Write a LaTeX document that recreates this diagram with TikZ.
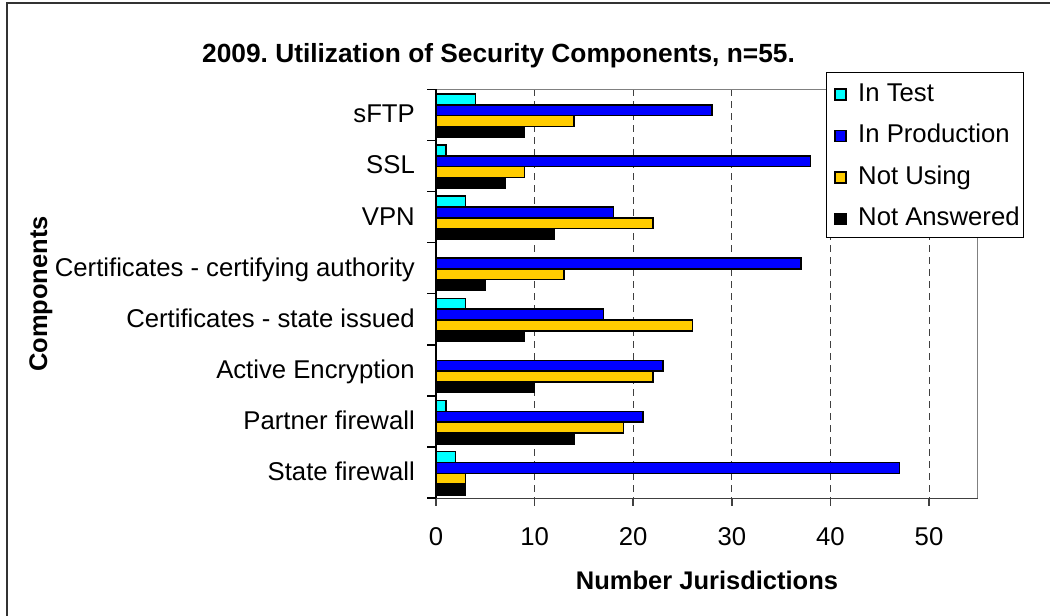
\documentclass[tikz,border=0pt]{standalone}
\usepackage{fontspec}
\setmainfont{Liberation Sans}
\usepackage{tikz}
\usetikzlibrary{positioning}

\definecolor{intest}{RGB}{0,255,255}
\definecolor{inprod}{RGB}{0,0,255}
\definecolor{notusing}{RGB}{255,204,0}
\definecolor{notanswered}{RGB}{0,0,0}
\newcommand{\valx}[1]{436+9.86*#1}
\frenchspacing

\tikzset{
  lab/.style={font=\fontsize{25.7}{30}\selectfont, inner sep=0pt},
  boldlab/.style={font=\fontsize{25.5}{30}\selectfont\bfseries, inner sep=0pt},
  barbox/.style={draw=black, line width=1.5pt},
  gridline/.style={black!75, line width=1pt, dash pattern=on 7pt off 5pt},
}

\begin{document}
\begin{tikzpicture}[x=1pt,y=-1pt]
  \useasboundingbox (0,0) rectangle (1050,616);
  \draw[black!80, line width=1.5pt] (1052,3) -- (7,3) -- (7,618);

  \draw (498.5,62.3) node[boldlab, font=\fontsize{26.3}{30}\selectfont\bfseries, anchor=base] (title) {2009. Utilization of Security Components, n=55.};

  % grid and frame of the plot
  \foreach \v in {10,20,...,50}
    \draw[gridline] (\valx{\v},89.3) -- (\valx{\v},498.3);
  \draw[black!50, line width=1.5pt] (436,89.3) -- (977.7,89.3) -- (977.7,498.3);
  \draw[black!75, line width=1.5pt] (436,498.3) -- (977.7,498.3);
  \foreach \v in {0,10,...,50}
    \draw[black!75, line width=1.5pt] (\valx{\v},498.3) -- (\valx{\v},506);
  \foreach \i in {0,...,8}
    \draw[black, line width=1.5pt] (427,89.3+51.1*\i) -- (436,89.3+51.1*\i);

  % bars
  \foreach \name/\a/\b/\c/\d [count=\i from 0] in {
      sFTP/4/28/14/9,
      SSL/1/38/9/7,
      VPN/3/18/22/12,
      Certificates - certifying authority/0/37/13/5,
      Certificates - state issued/3/17/26/9,
      Active Encryption/0/23/22/10,
      Partner firewall/1/21/19/14,
      State firewall/2/47/3/3}
  {
    \pgfmathsetmacro{\top}{89.3+51.1*\i}
    \ifnum\a>0 \draw[barbox, fill=intest] (436,\top+4.7) rectangle (\valx{\a},\top+15.5); \fi
    \draw[barbox, fill=inprod] (436,\top+15.5) rectangle (\valx{\b},\top+26.3);
    \draw[barbox, fill=notusing] (436,\top+26.3) rectangle (\valx{\c},\top+37.1);
    \draw[barbox, fill=notanswered] (436,\top+37.1) rectangle (\valx{\d},\top+47.9);
    \draw (415,\top+33.5) node[lab, anchor=base east] (cat\i) {\name};
  }
  \draw[black, line width=1.5pt] (436,89.3) -- (436,498.3);

  % axes labels
  \foreach \v in {0,10,...,50}
    \draw (\valx{\v},545) node[lab, anchor=base] (tick\v) {\v};
  \draw (707,589) node[boldlab, anchor=base] (xtitle) {Number Jurisdictions};
  \draw (47,294) node[boldlab, rotate=90, anchor=base] (ytitle) {Components};

  % legend
  \draw[black, line width=1pt, fill=white] (826,72.3) rectangle (1023.3,237.3);
  \foreach \col/\txt [count=\j from 0] in {intest/In Test, inprod/In Production, notusing/Not Using, notanswered/Not Answered}
  {
    \draw[black, line width=1.2pt, fill=\col] (835,89+41.5*\j) rectangle ++(11,11);
    \draw (858,101+41.5*\j) node[lab, anchor=base west] (leg\j) {\txt};
  }
\end{tikzpicture}
\end{document}
